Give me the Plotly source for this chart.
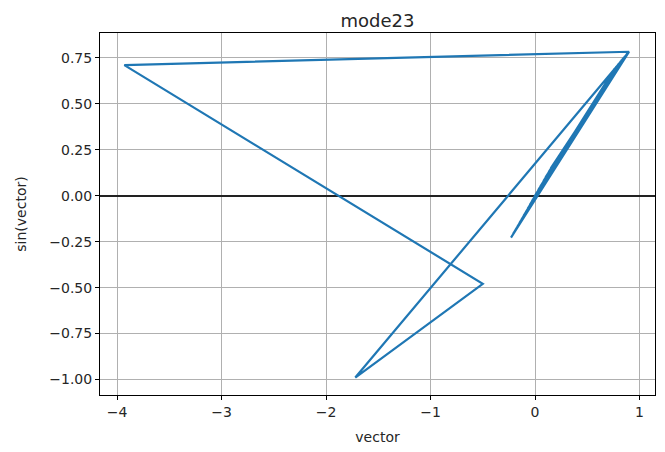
import plotly.graph_objects as go

# data (vector vs sin(vector))
vector = [-0.23, 0.90, -0.21, 0.86, -0.19, 0.89, -0.17, 0.82, -0.15, 0.90,
          -0.13, 0.78, -0.11, 0.88, -0.09, 0.84, -0.07, 0.90, -0.05, 0.80,
          -0.03, 0.89, -0.01, 0.86, 0.01, 0.90, 0.03, 0.76, 0.05, 0.88,
          0.08, 0.83, 0.10, 0.90, 0.13, 0.85, 0.15, 0.89,
          0.90, -3.93, -0.50, -1.72, 0.90]
sin_vector = [-0.228, 0.783, -0.208, 0.758, -0.189, 0.777, -0.169, 0.731, -0.149, 0.783,
              -0.130, 0.703, -0.110, 0.771, -0.090, 0.745, -0.070, 0.783, -0.050, 0.717,
              -0.030, 0.777, -0.010, 0.758, 0.010, 0.783, 0.030, 0.689, 0.050, 0.771,
              0.080, 0.738, 0.100, 0.783, 0.129, 0.751, 0.149, 0.777,
              0.783, 0.710, -0.479, -0.989, 0.783]

x_ticks = [-4, -3, -2, -1, 0, 1]
y_ticks = [-1.0, -0.75, -0.5, -0.25, 0.0, 0.25, 0.5, 0.75]

font = "DejaVu Sans"
txt = "#262626"
fig = go.Figure()
fig.add_trace(go.Scatter(x=vector, y=sin_vector, mode="lines",
                         line=dict(color="#1f77b4", width=2.2), showlegend=False))

axis_common = dict(showline=True, linecolor="black", linewidth=1, mirror=True,
                   ticks="outside", ticklen=4, tickcolor="black",
                   showgrid=True, gridcolor="#b0b0b0", gridwidth=1,
                   tickfont=dict(family=font, size=14, color=txt))

fig.update_layout(
    width=665, height=452,
    margin=dict(l=100, r=10, t=33, b=57),
    paper_bgcolor="white", plot_bgcolor="white",
    title=dict(text="mode23", x=0.5, xref="paper", y=1, yref="paper",
               yanchor="bottom", pad=dict(b=6),
               font=dict(family=font, size=18, color=txt)),
    xaxis=dict(range=[-4.163, 1.148], tickvals=x_ticks, zeroline=False,
               title=dict(text="vector", font=dict(family=font, size=14, color=txt), standoff=13),
               **axis_common),
    yaxis=dict(range=[-1.084, 0.885], tickvals=y_ticks, tickformat=".2f",
               zeroline=True, zerolinecolor="#222222", zerolinewidth=2,
               title=dict(text="sin(vector)", font=dict(family=font, size=14, color=txt), standoff=19),
               **axis_common),
)

fig.write_html("out.html")
